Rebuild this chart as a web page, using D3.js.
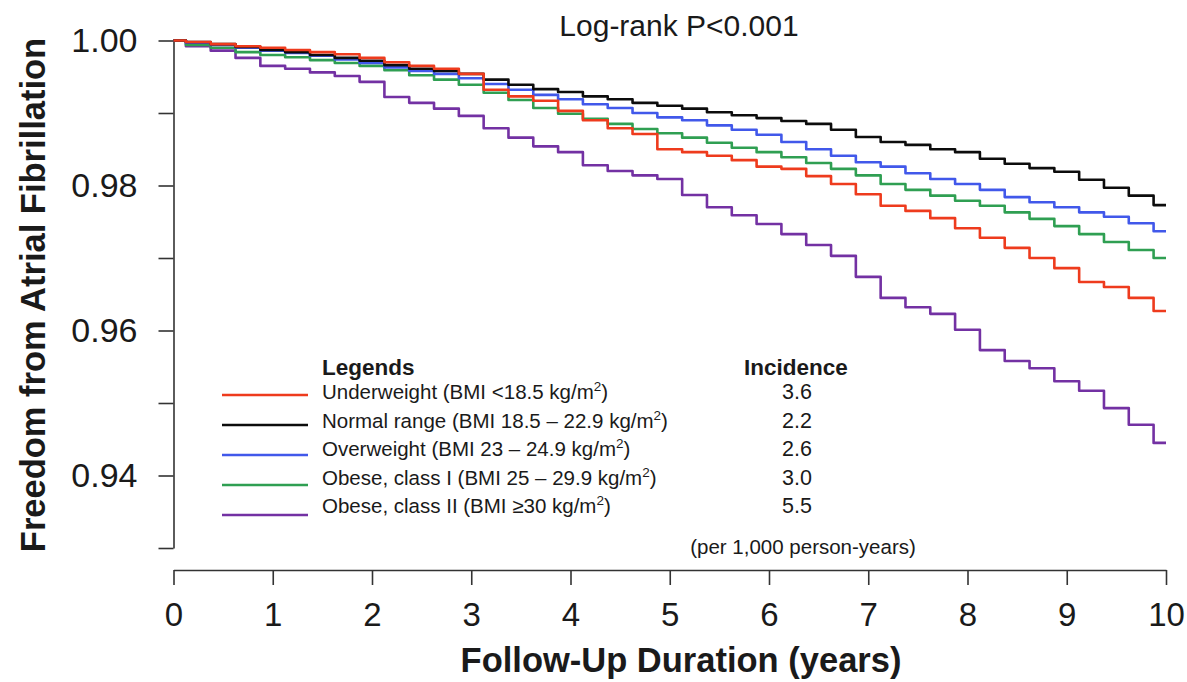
<!DOCTYPE html>
<html>
<head>
<meta charset="utf-8">
<script src="https://cdn.jsdelivr.net/npm/d3@7/dist/d3.min.js"></script>
<style>
  html, body { margin: 0; padding: 0; background: #fff; }
  svg { display: block; font-family: "Liberation Sans", Arial, Helvetica, sans-serif; }
</style>
</head>
<body>
<svg id="chart" width="1187" height="682"></svg>
<script>
// Follow-up time (years) at which the survival estimates are listed
const years = [0, 0.25, 0.5, 0.75, 1, 1.25, 1.5, 1.75, 2, 2.25, 2.5, 2.75, 3, 3.25, 3.5, 3.75,
  4, 4.25, 4.5, 4.75, 5, 5.25, 5.5, 5.75, 6, 6.25, 6.5, 6.75, 7, 7.25, 7.5, 7.75,
  8, 8.25, 8.5, 8.75, 9, 9.25, 9.5, 9.75, 10];

// Kaplan-Meier freedom from AF by BMI group
const underweight = [1.0000, 0.9998, 0.9995, 0.9992, 0.9990, 0.9987, 0.9984, 0.9981, 0.9976, 0.9970,
  0.9965, 0.9961, 0.9954, 0.9932, 0.9923, 0.9917, 0.9903, 0.9890, 0.9879, 0.9871,
  0.9850, 0.9846, 0.9841, 0.9835, 0.9826, 0.9823, 0.9813, 0.9802, 0.9788, 0.9772,
  0.9765, 0.9755, 0.9741, 0.9728, 0.9714, 0.9700, 0.9686, 0.9667, 0.9660, 0.9645, 0.9627];
const normalRange = [1.0000, 0.9998, 0.9995, 0.9991, 0.9987, 0.9984, 0.9980, 0.9976, 0.9972, 0.9966,
  0.9961, 0.9958, 0.9954, 0.9946, 0.9939, 0.9933, 0.9929, 0.9923, 0.9919, 0.9914,
  0.9910, 0.9906, 0.9901, 0.9897, 0.9893, 0.9889, 0.9885, 0.9877, 0.9867, 0.9860,
  0.9856, 0.9850, 0.9846, 0.9837, 0.9830, 0.9824, 0.9819, 0.9808, 0.9797, 0.9786, 0.9773];
const overweight = [1.0000, 0.9997, 0.9994, 0.9990, 0.9986, 0.9983, 0.9979, 0.9974, 0.9969, 0.9963,
  0.9958, 0.9954, 0.9948, 0.9940, 0.9932, 0.9925, 0.9919, 0.9912, 0.9907, 0.9900,
  0.9894, 0.9890, 0.9883, 0.9877, 0.9870, 0.9860, 0.9850, 0.9841, 0.9832, 0.9826,
  0.9817, 0.9809, 0.9802, 0.9794, 0.9784, 0.9777, 0.9770, 0.9763, 0.9757, 0.9748, 0.9737];
const obeseI = [1.0000, 0.9994, 0.9990, 0.9984, 0.9980, 0.9977, 0.9973, 0.9969, 0.9965, 0.9959,
  0.9952, 0.9946, 0.9939, 0.9928, 0.9918, 0.9907, 0.9899, 0.9892, 0.9885, 0.9878,
  0.9872, 0.9866, 0.9859, 0.9852, 0.9846, 0.9839, 0.9831, 0.9823, 0.9814, 0.9802,
  0.9794, 0.9786, 0.9779, 0.9772, 0.9763, 0.9754, 0.9744, 0.9733, 0.9722, 0.9711, 0.9700];
const obeseII = [1.0000, 0.9992, 0.9986, 0.9976, 0.9965, 0.9961, 0.9956, 0.9951, 0.9943, 0.9922,
  0.9914, 0.9906, 0.9896, 0.9879, 0.9866, 0.9854, 0.9846, 0.9828, 0.9820, 0.9814,
  0.9809, 0.9787, 0.9770, 0.9759, 0.9747, 0.9733, 0.9718, 0.9703, 0.9674, 0.9645,
  0.9632, 0.9623, 0.9601, 0.9573, 0.9558, 0.9548, 0.9530, 0.9517, 0.9493, 0.9470, 0.9445];

const groupLabels = [
  "Underweight (BMI <18.5 kg/m²)",
  "Normal range (BMI 18.5 – 22.9 kg/m²)",
  "Overweight (BMI 23 – 24.9 kg/m²)",
  "Obese, class I (BMI 25 – 29.9 kg/m²)",
  "Obese, class II (BMI ≥30 kg/m²)"
];
const incidence = ["3.6", "2.2", "2.6", "3.0", "5.5"];
const groupColors = ["#ee3b1d", "#0c0c0c", "#4158ea", "#2f9f52", "#7331a3"];

const xTicks = [0, 1, 2, 3, 4, 5, 6, 7, 8, 9, 10];
const yTicks = [1.00, 0.99, 0.98, 0.97, 0.96, 0.95, 0.94, 0.93];
const yLabelled = [1.00, 0.98, 0.96, 0.94];

const series = [underweight, normalRange, overweight, obeseI, obeseII].map((vals, i) => ({
  label: groupLabels[i],
  incidence: incidence[i],
  color: groupColors[i],
  points: years.map((t, j) => [t, vals[j]])
}));

const svg = d3.select("#chart");

const x = d3.scaleLinear().domain([0, 10]).range([173.5, 1166]);
const y = d3.scaleLinear().domain([0.93, 1.00]).range([548, 40.5]);

// Axes
const xAxis = svg.append("g")
  .attr("transform", "translate(0,570)")
  .call(d3.axisBottom(x).tickValues(xTicks).tickFormat(d3.format("d"))
    .tickSize(15).tickSizeOuter(0).tickPadding(18));
const yAxis = svg.append("g")
  .attr("transform", "translate(173.5,0)")
  .call(d3.axisLeft(y).tickValues(yTicks)
    .tickFormat(d => yLabelled.some(v => Math.abs(v - d) < 1e-9) ? d3.format(".2f")(d) : "")
    .tickSize(15).tickSizeOuter(0).tickPadding(21));

[xAxis, yAxis].forEach(g => {
  g.selectAll("path.domain").attr("stroke", "#333").attr("stroke-width", 1.6);
  g.selectAll(".tick line").attr("stroke", "#333").attr("stroke-width", 1.6);
  g.selectAll(".tick text").attr("fill", "#1a1a1a").attr("font-family", null);
});
xAxis.attr("font-size", null).selectAll(".tick text").attr("font-size", 33);
yAxis.attr("font-size", null).selectAll(".tick text").attr("font-size", 34);

// Survival curves (drawn so the underweight curve sits on top)
const line = d3.line()
  .x(d => x(d[0]))
  .y(d => y(d[1]))
  .curve(d3.curveStep);

svg.append("g")
  .selectAll("path")
  .data(series.slice().reverse())
  .join("path")
  .attr("d", d => line(d.points))
  .attr("fill", "none")
  .attr("stroke", d => d.color)
  .attr("stroke-width", 2.6)
  .attr("stroke-linejoin", "round");

// Titles
svg.append("text")
  .attr("x", 679).attr("y", 36)
  .attr("text-anchor", "middle")
  .attr("font-size", 30)
  .attr("fill", "#1a1a1a")
  .text("Log-rank P<0.001");

svg.append("text")
  .attr("x", 681).attr("y", 672)
  .attr("text-anchor", "middle")
  .attr("font-size", 34.5)
  .attr("font-weight", "bold")
  .attr("fill", "#1a1a1a")
  .text("Follow-Up Duration (years)");

svg.append("text")
  .attr("transform", "translate(45,295) rotate(-90)")
  .attr("text-anchor", "middle")
  .attr("font-size", 34.5)
  .attr("font-weight", "bold")
  .attr("fill", "#1a1a1a")
  .text("Freedom from Atrial Fibrillation");

// Legend with incidence column
const legend = svg.append("g");
legend.append("text")
  .attr("x", 322).attr("y", 375)
  .attr("font-size", 22.5).attr("font-weight", "bold").attr("fill", "#1a1a1a")
  .text("Legends");
legend.append("text")
  .attr("x", 796).attr("y", 375)
  .attr("text-anchor", "middle")
  .attr("font-size", 22.5).attr("font-weight", "bold").attr("fill", "#1a1a1a")
  .text("Incidence");

const rows = legend.selectAll("g.row")
  .data(series)
  .join("g")
  .attr("class", "row");

rows.append("line")
  .attr("x1", 222).attr("x2", 308)
  .attr("y1", (d, i) => 395 + i * 30)
  .attr("y2", (d, i) => 395 + i * 30)
  .attr("stroke", d => d.color)
  .attr("stroke-width", 2.4);

rows.each(function (d, i) {
  const t = d3.select(this).append("text")
    .attr("x", 322).attr("y", 399 + i * 28.5)
    .attr("font-size", 20.5).attr("fill", "#1a1a1a");
  const parts = d.label.split("²");
  t.append("tspan").text(parts[0]);
  t.append("tspan").attr("font-size", 13.5).attr("dy", -8).text("2");
  t.append("tspan").attr("dy", 8).text(parts[1]);
});

rows.append("text")
  .attr("x", 797).attr("y", (d, i) => 399 + i * 28.5)
  .attr("text-anchor", "middle")
  .attr("font-size", 21.5).attr("fill", "#1a1a1a")
  .text(d => d.incidence);

legend.append("text")
  .attr("x", 803).attr("y", 554)
  .attr("text-anchor", "middle")
  .attr("font-size", 20.5).attr("fill", "#1a1a1a")
  .text("(per 1,000 person-years)");
</script>
</body>
</html>
